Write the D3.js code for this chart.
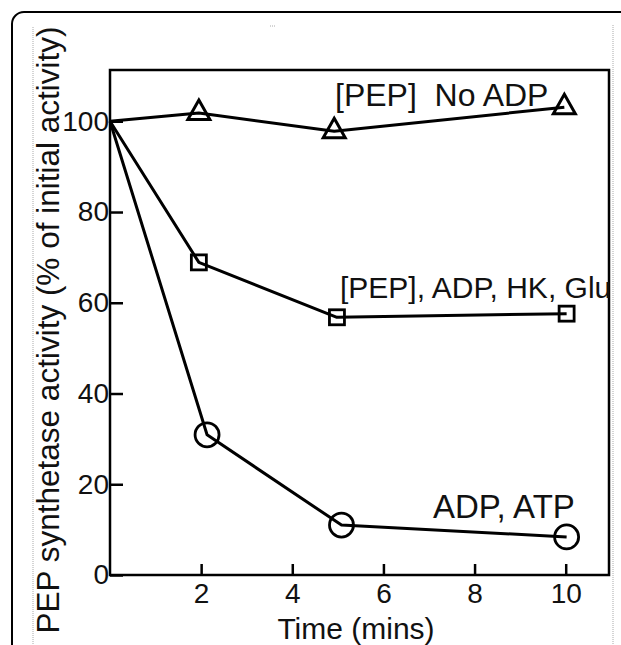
<!DOCTYPE html>
<html>
<head>
<meta charset="utf-8">
<script src="https://cdn.jsdelivr.net/npm/d3@7"></script>
<style>
  html, body { margin: 0; padding: 0; background: #fff; }
  svg { display: block; }
  text { font-family: "Liberation Sans", Arial, Helvetica, sans-serif; fill: #111; }
</style>
</head>
<body>
<svg id="chart" width="621" height="645"></svg>
<script>
// ---- data ----
const noAdpTime = [0, 1.95, 4.92, 9.97];
const noAdpActivity = [100, 101.8, 97.8, 103.1];

const hkGluTime = [0, 1.95, 4.98, 10.02];
const hkGluActivity = [100, 68.9, 56.8, 57.6];

const atpTime = [0, 2.13, 5.08, 10.02];
const atpActivity = [100, 30.9, 11.0, 8.4];

const xTickValues = [2, 4, 6, 8, 10];
const yTickValues = [0, 20, 40, 60, 80, 100];

const labelNoAdp = "[PEP]  No ADP";
const labelHkGlu = "[PEP], ADP, HK, Glu";
const labelAtp = "ADP, ATP";
const xTitle = "Time (mins)";
const yTitle = "PEP synthetase activity (% of initial activity)";

// ---- layout ----
const svg = d3.select("#chart");
const plot = { left: 110, right: 609, top: 70, bottom: 575 };

const x = d3.scaleLinear().domain([0, 10.95]).range([plot.left, plot.right]);
const y = d3.scaleLinear().domain([0, 111.3]).range([plot.bottom, plot.top]);

// outer rounded frame
svg.append("rect")
  .attr("x", 12).attr("y", 12).attr("width", 700).attr("height", 700)
  .attr("rx", 12).attr("ry", 12)
  .attr("fill", "none").attr("stroke", "#000").attr("stroke-width", 2);

// faint dotted guide lines
const dotted = svg.append("g").attr("stroke", "#aaa").attr("stroke-width", 1)
  .attr("stroke-dasharray", "1,1");
dotted.append("line").attr("x1", 33).attr("x2", 33).attr("y1", 27).attr("y2", 645);
dotted.append("line").attr("x1", 613).attr("x2", 613).attr("y1", 25).attr("y2", 645);
dotted.append("line").attr("x1", 270).attr("x2", 275).attr("y1", 26).attr("y2", 26);

// plot box
svg.append("rect")
  .attr("x", plot.left).attr("y", plot.top)
  .attr("width", plot.right - plot.left).attr("height", plot.bottom - plot.top)
  .attr("fill", "none").attr("stroke", "#000").attr("stroke-width", 2.5);

// axes
const xAxis = d3.axisBottom(x).tickValues(xTickValues).tickSize(-11).tickPadding(8)
  .tickFormat(d3.format("d"));
const gx = svg.append("g").attr("transform", `translate(0,${plot.bottom})`).call(xAxis);
gx.select(".domain").remove();
gx.selectAll(".tick line").attr("stroke", "#000").attr("stroke-width", 2.5);
gx.selectAll(".tick text").attr("font-size", 28).attr("font-family", null);

const yAxis = d3.axisLeft(y).tickValues(yTickValues).tickSize(-13).tickPadding(1)
  .tickFormat(d3.format("d"));
const gy = svg.append("g").attr("transform", `translate(${plot.left},0)`).call(yAxis);
gy.select(".domain").remove();
gy.selectAll(".tick line").attr("stroke", "#000").attr("stroke-width", 2.5);
gy.selectAll(".tick text").attr("font-size", 28).attr("font-family", null);

// axis titles
svg.append("text")
  .attr("x", 356).attr("y", 639)
  .attr("text-anchor", "middle").attr("font-size", 30)
  .text(xTitle);
svg.append("text")
  .attr("transform", "translate(59,330) rotate(-90)")
  .attr("text-anchor", "middle").attr("font-size", 31.5)
  .text(yTitle);

// series
const series = [
  { t: noAdpTime, v: noAdpActivity, marker: "triangle" },
  { t: hkGluTime, v: hkGluActivity, marker: "square" },
  { t: atpTime, v: atpActivity, marker: "circle" }
];

const line = d3.line().x(d => x(d[0])).y(d => y(d[1]));

series.forEach(s => {
  const pts = s.t.map((t, i) => [t, s.v[i]]);
  svg.append("path").datum(pts)
    .attr("d", line).attr("fill", "none")
    .attr("stroke", "#000").attr("stroke-width", 3)
    .attr("stroke-linejoin", "round");

  const markers = svg.append("g").selectAll("g").data(pts.slice(1)).join("g")
    .attr("transform", d => `translate(${x(d[0])},${y(d[1])})`);

  if (s.marker === "circle") {
    markers.append("circle").attr("r", 12)
      .attr("fill", "none").attr("stroke", "#000").attr("stroke-width", 2.8);
  } else if (s.marker === "square") {
    markers.append("rect").attr("x", -7.5).attr("y", -7.5)
      .attr("width", 15).attr("height", 15)
      .attr("fill", "none").attr("stroke", "#000").attr("stroke-width", 2.8);
  } else {
    markers.append("path").attr("d", "M0,-13 L11,6.5 L-11,6.5 Z")
      .attr("fill", "none").attr("stroke", "#000").attr("stroke-width", 3)
      .attr("stroke-linejoin", "miter");
  }
});

// annotations
svg.append("text").attr("x", 335).attr("y", 106).attr("font-size", 32)
  .attr("xml:space", "preserve").style("white-space", "pre").text(labelNoAdp);
svg.append("text").attr("x", 340).attr("y", 298).attr("font-size", 30)
  .text(labelHkGlu);
svg.append("text").attr("x", 433).attr("y", 518).attr("font-size", 33)
  .text(labelAtp);
</script>
</body>
</html>
